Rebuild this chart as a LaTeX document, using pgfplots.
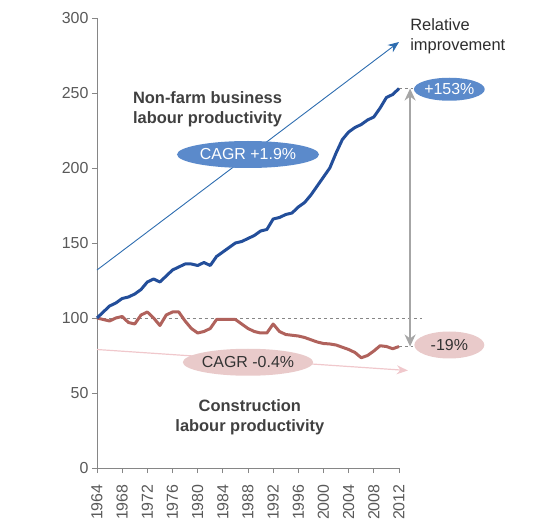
\documentclass[border=0pt]{standalone}
\usepackage{pgfplots}
\pgfplotsset{compat=1.18}
\usepackage{fontspec}
\setmainfont{Liberation Sans}
\usetikzlibrary{arrows.meta,shapes.geometric}
\definecolor{nfblue}{HTML}{234E9A}
\definecolor{conred}{HTML}{B0625C}
\definecolor{ellblue}{HTML}{5B8ACB}
\definecolor{ellpink}{HTML}{E9CACA}
\definecolor{txtgray}{HTML}{404040}
\definecolor{tickgray}{HTML}{595959}
\definecolor{axgray}{HTML}{868686}
\definecolor{arrblue}{HTML}{2E6DB0}
\definecolor{arrpink}{HTML}{F0C8CC}
\definecolor{vgray}{HTML}{A6A6A6}

\pgfplotstableread{
year nf con
1964 100 100
1965 104 99
1966 108 98
1967 110 100
1968 113 101
1969 114 97
1970 116 96
1971 119 102
1972 124 104
1973 126 100
1974 124 95
1975 128 102
1976 132 104
1977 134 104
1978 136 98
1979 136 93
1980 135 90
1981 137 91
1982 135 93
1983 141 99
1984 144 99
1985 147 99
1986 150 99
1987 151 96
1988 153 93
1989 155 91
1990 158 90
1991 159 90
1992 166 96
1993 167 91
1994 169 89
1995 170 88.5
1996 174 88
1997 177 87
1998 182 85.5
1999 188 84
2000 194 83
2001 200 82.7
2002 210 82
2003 219 80.5
2004 224 79
2005 227 77
2006 229 73.5
2007 232 75
2008 234 78
2009 240 81.5
2010 247 81
2011 249 79.5
2012 253 81
}\data

\begin{document}
\begin{tikzpicture}
\begin{axis}[name=ax, scale only axis, width=302bp, height=450bp,
  xmin=1964, xmax=2012, ymin=0, ymax=300,
  xtick={1964,1968,...,2012}, ytick={0,50,...,300},
  x tick label style={rotate=90, anchor=east},
  xticklabel shift=8bp,
  /pgf/number format/1000 sep={},
  /pgf/number format/assume math mode=true,
  axis x line*=bottom, axis y line*=left,
  axis line style={axgray, line width=0.8bp, -},
  tick style={axgray, line width=0.8bp},
  major tick length=5bp, tick align=outside,
  tick label style={font=\fontsize{16}{18}\selectfont, text=tickgray},
  clip=false,
  ]
  % reference lines and arrows
  \draw[arrblue, line width=0.9bp, -{Stealth[length=11bp,width=9bp]}] (axis cs:1964,132) -- (axis cs:2012,284);
  \draw[arrpink, line width=1.2bp, -{Stealth[length=11bp,width=9bp]}] (axis cs:1964,79) -- (axis cs:2013.4,65);
  \draw[axgray, dashed, line width=0.6bp] (axis cs:1964,100) -- (axis cs:2015.7,100);
  \draw[axgray, dashed, line width=0.6bp] (axis cs:2012,253) -- (axis cs:2014.2,253);
  \draw[axgray, dashed, line width=0.6bp] (axis cs:2012,81) -- (axis cs:2014.2,81);

  \addplot[conred, line width=3bp, line join=round] table[x=year, y=con] {\data};
  \addplot[nfblue, line width=3bp, line join=round] table[x=year, y=nf] {\data};

  \draw[vgray, line width=1.8bp, {Stealth[length=12bp,width=11bp]}-{Stealth[length=12bp,width=11bp]}] (axis cs:2013.76,253) -- (axis cs:2013.76,81);

  % ellipses
  \node[ellipse, fill=ellblue, minimum width=70bp, minimum height=23bp, inner sep=0pt, text=white,
        font=\fontsize{16}{18}\selectfont] at (axis cs:2020,252.5) {+153\%};
  \node[ellipse, fill=ellpink, minimum width=70bp, minimum height=27bp, inner sep=0pt, text=txtgray!80!black,
        font=\fontsize{16}{18}\selectfont] at (axis cs:2020,82) {-19\%};
  \node[ellipse, fill=ellblue, minimum width=142bp, minimum height=27bp, inner sep=0pt, text=white,
        font=\fontsize{16}{18}\selectfont] at (axis cs:1988,209) {CAGR +1.9\%};
  \node[ellipse, fill=ellpink, minimum width=123bp, minimum height=27bp, inner sep=0pt, text=txtgray!80!black,
        font=\fontsize{16}{18}\selectfont] at (axis cs:1988,70.5) {CAGR -0.4\%};

  % texts
  \node[anchor=west, align=left, text=txtgray, font=\bfseries\fontsize{16.5}{20}\selectfont, inner sep=0pt]
    at (axis cs:1969.7,239) {Non-farm business\\labour productivity};
  \node[align=center, text=txtgray, font=\bfseries\fontsize{16.5}{20}\selectfont, inner sep=0pt]
    at (axis cs:1988.3,34) {Construction\\labour productivity};
  \node[anchor=west, align=left, text=txtgray!70!black, font=\fontsize{16.5}{20}\selectfont, inner sep=0pt]
    at (axis cs:2013.76,288) {Relative\\improvement};
\end{axis}
\pgfresetboundingbox
\path (ax.south west) ++(-97bp,-64bp) rectangle ++(542bp,532bp);
\end{tikzpicture}
\end{document}
